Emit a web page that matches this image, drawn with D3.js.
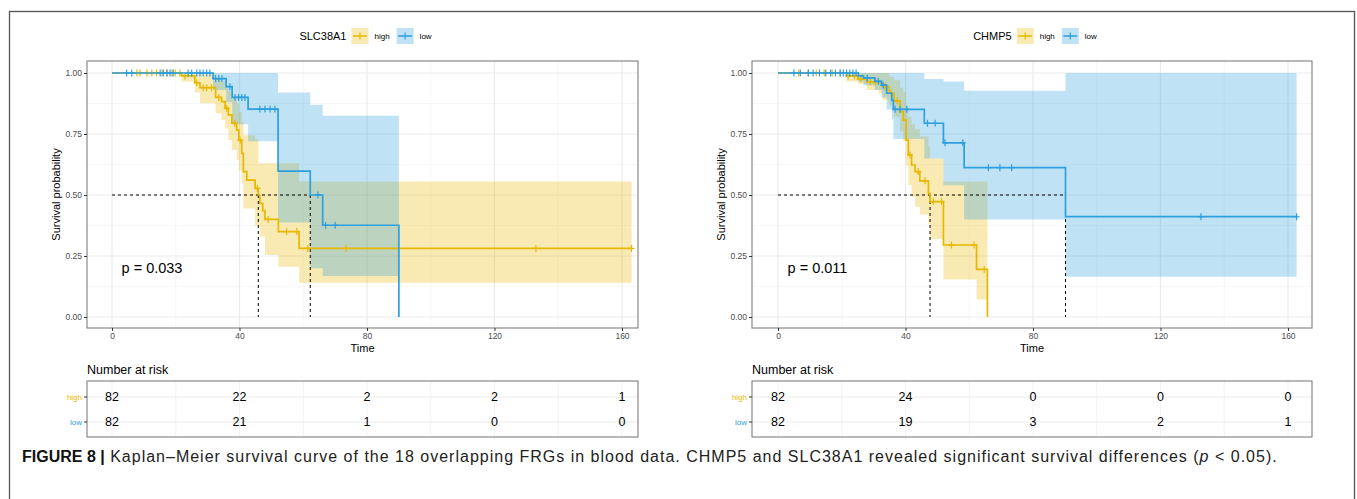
<!DOCTYPE html>
<html>
<head>
<meta charset="utf-8">
<script src="https://cdn.jsdelivr.net/npm/d3@7"></script>
<style>
  body { margin: 0; background: #fff; }
  svg { display: block; font-family: "Liberation Sans", Arial, sans-serif; }
</style>
</head>
<body>
<div id="chart"></div>
<script>
// axes / groups
var timeTicks = [0, 40, 80, 120, 160];
var timeMinor = [20, 60, 100, 140];
var survTicks = [0, 0.25, 0.5, 0.75, 1];
var survMinor = [0.125, 0.375, 0.625, 0.875];
var groupNames = ["high", "low"];
var groupColors = ["#E7B800", "#2E9FDF"];

// SLC38A1 high
var slcHighTime  = [0, 21.8, 26.0, 27.6, 32.5, 34.4, 35.5, 36.5, 37.6, 39.1, 39.8, 40.7, 41.2, 42.3, 44.9, 45.9, 46.4, 47.3, 48.0, 52.2, 58.7];
var slcHighSurv  = [1, 0.988, 0.96, 0.94, 0.90, 0.883, 0.855, 0.828, 0.794, 0.766, 0.725, 0.671, 0.596, 0.561, 0.527, 0.50, 0.466, 0.436, 0.40, 0.35, 0.281];
var slcHighLower = [1, 0.965, 0.92, 0.876, 0.835, 0.807, 0.773, 0.725, 0.684, 0.643, 0.602, 0.55, 0.445, 0.445, 0.374, 0.374, 0.33, 0.33, 0.254, 0.206, 0.14];
var slcHighUpper = [1, 1, 1, 1, 0.975, 0.965, 0.945, 0.925, 0.90, 0.875, 0.84, 0.80, 0.745, 0.745, 0.73, 0.63, 0.63, 0.63, 0.63, 0.63, 0.555];
var slcHighCensor = [7.8, 8.8, 11, 12.5, 14, 15.7, 17.3, 18.8, 19.8, 21.3, 22.9, 26.6, 28.6, 29.7, 31.2, 33.5, 36.0, 38.5, 40.2, 45.6, 49, 54.8, 58, 61.4, 73.4, 133, 163];
var slcHighEnd = 163;

// SLC38A1 low
var slcLowTime  = [0, 31.7, 35.8, 37.7, 42.7, 52.1, 62.2, 66.1, 90];
var slcLowSurv  = [1, 0.977, 0.944, 0.90, 0.852, 0.598, 0.50, 0.376, 0];
var slcLowLower = [1, 0.93, 0.88, 0.79, 0.72, 0.387, 0.20, 0.168, 0];
var slcLowUpper = [1, 1, 1, 1, 1, 0.92, 0.87, 0.825, 0];
var slcLowCensor = [4.6, 6.2, 15.1, 16.1, 17.2, 18.2, 19.2, 23.9, 25, 26.6, 27.6, 28.6, 29.7, 30.7, 32.5, 33.5, 34.5, 37, 38.6, 39.7, 40.7, 41.7, 46.4, 48, 49.6, 51.1, 64.6, 67, 70];
var slcLowEnd = 90;

var slcMedian = [45.9, 62.2];
var slcRiskHigh = [82, 22, 2, 2, 1];
var slcRiskLow = [82, 21, 1, 0, 0];

// CHMP5 high
var chmpHighTime  = [0, 21.5, 25.0, 27.8, 31.5, 32.8, 34.9, 36.4, 38.3, 39.3, 40.2, 40.9, 41.9, 43.0, 44.5, 47.2, 47.7, 51.9, 62.3, 65.7];
var chmpHighSurv  = [1, 0.988, 0.975, 0.964, 0.957, 0.944, 0.917, 0.886, 0.841, 0.807, 0.725, 0.664, 0.623, 0.596, 0.558, 0.507, 0.473, 0.295, 0.195, 0];
var chmpHighLower = [1, 0.965, 0.955, 0.93, 0.917, 0.89, 0.869, 0.82, 0.76, 0.72, 0.62, 0.541, 0.493, 0.452, 0.42, 0.38, 0.32, 0.154, 0.072, 0];
var chmpHighUpper = [1, 1, 1, 1, 1, 1, 0.985, 0.97, 0.94, 0.92, 0.86, 0.82, 0.79, 0.77, 0.74, 0.70, 0.65, 0.555, 0.555, 0];
var chmpHighCensor = [6.5, 9.5, 12, 14.5, 17, 19.5, 22, 24, 26, 29, 30.5, 33.5, 35.5, 37.4, 41.4, 44.0, 46.1, 48.7, 51.3, 54.4, 61.5, 64.7];
var chmpHighEnd = 65.7;

// CHMP5 low
var chmpLowTime  = [0, 25.2, 26.8, 30.4, 32.5, 34.1, 35.7, 36.2, 45.9, 51.9, 58.4, 90.2];
var chmpLowSurv  = [1, 0.988, 0.98, 0.966, 0.95, 0.917, 0.889, 0.851, 0.794, 0.714, 0.612, 0.411];
var chmpLowLower = [1, 0.965, 0.95, 0.93, 0.90, 0.85, 0.81, 0.73, 0.65, 0.54, 0.40, 0.165];
var chmpLowUpper = [1, 1, 1, 1, 1, 1, 1, 1, 0.975, 0.965, 0.927, 1];
var chmpLowCensor = [5, 7, 9.5, 11, 13, 15, 16.5, 18, 19.5, 20.5, 21.5, 22.5, 23.5, 24.5, 28, 31.5, 33, 36.7, 38.3, 40.4, 46.9, 49.3, 52.4, 58.0, 66, 69.6, 73.3, 132.7, 162.7];
var chmpLowEnd = 162.7;

var chmpMedian = [47.7, 90.2];
var chmpRiskHigh = [82, 24, 0, 0, 0];
var chmpRiskLow = [82, 19, 3, 2, 1];

var w = 1357, h = 499;

function buildCurve(time, surv, lower, upper, end) {
  var pts = time.map(function(t, i) {
    return {t: t, s: surv[i], lo: lower[i], hi: upper[i]};
  });
  var last = pts[pts.length - 1];
  if (last.t < end) pts.push({t: end, s: last.s, lo: last.lo, hi: last.hi});
  return pts;
}
function survAt(pts, t) {
  var s = 1;
  pts.forEach(function(p) { if (p.t <= t) s = p.s; });
  return s;
}

var panels = [
  {
    gene: "SLC38A1", left: 87, right: 638, x0: 112, x160: 622, p: "p = 0.033",
    curves: [
      {pts: buildCurve(slcHighTime, slcHighSurv, slcHighLower, slcHighUpper, slcHighEnd), censor: slcHighCensor},
      {pts: buildCurve(slcLowTime, slcLowSurv, slcLowLower, slcLowUpper, slcLowEnd), censor: slcLowCensor}
    ],
    median: slcMedian, risk: [slcRiskHigh, slcRiskLow]
  },
  {
    gene: "CHMP5", left: 752, right: 1312, x0: 778, x160: 1288, p: "p = 0.011",
    curves: [
      {pts: buildCurve(chmpHighTime, chmpHighSurv, chmpHighLower, chmpHighUpper, chmpHighEnd), censor: chmpHighCensor},
      {pts: buildCurve(chmpLowTime, chmpLowSurv, chmpLowLower, chmpLowUpper, chmpLowEnd), censor: chmpLowCensor}
    ],
    median: chmpMedian, risk: [chmpRiskHigh, chmpRiskLow]
  }
];

var svg = d3.select("#chart").append("svg").attr("width", w).attr("height", h);

// outer frame
svg.append("rect").attr("x", 9.5).attr("y", 11.5).attr("width", 1345).attr("height", 520)
  .attr("fill", "none").attr("stroke", "#555").attr("stroke-width", 1.3);

var panelTop = 61, panelBottom = 328;
var tabTop = 381, tabBottom = 437;

panels.forEach(function(P) {
  var x = d3.scaleLinear().domain([0, 160]).range([P.x0, P.x160]);
  var y = d3.scaleLinear().domain([0, 1]).range([317, 73]);
  var g = svg.append("g");

  // grid
  g.selectAll(".vmin").data(timeMinor).enter().append("line")
    .attr("x1", function(d){ return x(d); }).attr("x2", function(d){ return x(d); })
    .attr("y1", panelTop).attr("y2", panelBottom).attr("stroke", "#f3f3f3").attr("stroke-width", 0.7);
  g.selectAll(".hmin").data(survMinor).enter().append("line")
    .attr("y1", function(d){ return y(d); }).attr("y2", function(d){ return y(d); })
    .attr("x1", P.left).attr("x2", P.right).attr("stroke", "#f3f3f3").attr("stroke-width", 0.7);
  g.selectAll(".vmaj").data(timeTicks).enter().append("line")
    .attr("x1", function(d){ return x(d); }).attr("x2", function(d){ return x(d); })
    .attr("y1", panelTop).attr("y2", panelBottom).attr("stroke", "#ebebeb").attr("stroke-width", 1.2);
  g.selectAll(".hmaj").data(survTicks).enter().append("line")
    .attr("y1", function(d){ return y(d); }).attr("y2", function(d){ return y(d); })
    .attr("x1", P.left).attr("x2", P.right).attr("stroke", "#ebebeb").attr("stroke-width", 1.2);

  // confidence bands
  var band = d3.area().curve(d3.curveStepAfter)
    .x(function(d){ return x(d.t); })
    .y0(function(d){ return y(d.lo); })
    .y1(function(d){ return y(d.hi); });
  P.curves.forEach(function(c, i) {
    g.append("path").attr("d", band(c.pts)).attr("fill", groupColors[i]).attr("fill-opacity", 0.3);
  });

  // median lines
  var medMax = d3.max(P.median);
  g.append("line").attr("x1", x(0)).attr("x2", x(medMax)).attr("y1", y(0.5)).attr("y2", y(0.5))
    .attr("stroke", "#000").attr("stroke-width", 1).attr("stroke-dasharray", "3,3");
  P.median.forEach(function(m) {
    g.append("line").attr("x1", x(m)).attr("x2", x(m)).attr("y1", y(0.5)).attr("y2", y(0))
      .attr("stroke", "#000").attr("stroke-width", 1).attr("stroke-dasharray", "3,3");
  });

  // survival lines + censor marks
  var line = d3.line().curve(d3.curveStepAfter)
    .x(function(d){ return x(d.t); }).y(function(d){ return y(d.s); });
  P.curves.forEach(function(c, i) {
    g.append("path").attr("d", line(c.pts)).attr("fill", "none")
      .attr("stroke", groupColors[i]).attr("stroke-width", 1.7);
    c.censor.forEach(function(t) {
      var mx = x(t), my = y(survAt(c.pts, t));
      g.append("line").attr("x1", mx).attr("x2", mx).attr("y1", my - 3.5).attr("y2", my + 3.5)
        .attr("stroke", groupColors[i]).attr("stroke-width", 1.2);
      g.append("line").attr("x1", mx - 3).attr("x2", mx + 3).attr("y1", my).attr("y2", my)
        .attr("stroke", groupColors[i]).attr("stroke-width", 1.2);
    });
  });

  // panel border
  g.append("rect").attr("x", P.left).attr("y", panelTop).attr("width", P.right - P.left).attr("height", panelBottom - panelTop)
    .attr("fill", "none").attr("stroke", "#7f7f7f").attr("stroke-width", 1.1);

  // axes
  var xa = g.append("g").attr("transform", "translate(0," + panelBottom + ")")
    .call(d3.axisBottom(x).tickValues(timeTicks).tickSize(3).tickPadding(2));
  var ya = g.append("g").attr("transform", "translate(" + P.left + ",0)")
    .call(d3.axisLeft(y).tickValues(survTicks).tickFormat(d3.format(".2f")).tickSize(3).tickPadding(2));
  [xa, ya].forEach(function(a) {
    a.select(".domain").remove();
    a.selectAll("line").attr("stroke", "#333");
    a.selectAll("text").attr("fill", "#4d4d4d").style("font-size", "8.5px").style("font-family", "Liberation Sans, Arial, sans-serif");
  });

  // axis titles
  var mid = (P.left + P.right) / 2;
  g.append("text").attr("x", mid).attr("y", 352).attr("text-anchor", "middle")
    .style("font-size", "11px").text("Time");
  g.append("text").attr("transform", "translate(" + (P.left - 27) + "," + ((panelTop + panelBottom) / 2) + ") rotate(-90)")
    .attr("text-anchor", "middle").style("font-size", "11px").text("Survival probability");

  // p value
  g.append("text").attr("x", x(3)).attr("y", y(0.2)).attr("dy", "0.35em")
    .style("font-size", "14.5px").text(P.p);

  // legend
  var lg = g.append("g");
  var tt = lg.append("text").attr("x", 0).attr("y", 36).attr("dy", "0.35em").style("font-size", "11px").text(P.gene);
  var pos = tt.node().getComputedTextLength() + 5;
  groupNames.forEach(function(name, i) {
    lg.append("rect").attr("x", pos).attr("y", 28).attr("width", 17).attr("height", 16)
      .attr("fill", groupColors[i]).attr("fill-opacity", 0.3);
    lg.append("line").attr("x1", pos + 1.5).attr("x2", pos + 15.5).attr("y1", 36).attr("y2", 36)
      .attr("stroke", groupColors[i]).attr("stroke-width", 1.5);
    lg.append("line").attr("x1", pos + 8.5).attr("x2", pos + 8.5).attr("y1", 32.5).attr("y2", 39.5)
      .attr("stroke", groupColors[i]).attr("stroke-width", 1.2);
    var lt = lg.append("text").attr("x", pos + 23).attr("y", 36).attr("dy", "0.35em")
      .style("font-size", "8px").text(name);
    pos += 23 + lt.node().getComputedTextLength() + 7;
  });
  lg.attr("transform", "translate(" + (mid - (pos - 7) / 2 + 3) + ",0)");

  // risk table
  g.append("text").attr("x", P.left).attr("y", 370).attr("dy", "0.35em")
    .style("font-size", "12.5px").text("Number at risk");
  var ry = d3.scalePoint().domain(groupNames).range([397, 422]);
  g.selectAll(".tv").data(timeMinor.concat(timeTicks)).enter().append("line")
    .attr("x1", function(d){ return x(d); }).attr("x2", function(d){ return x(d); })
    .attr("y1", tabTop).attr("y2", tabBottom).attr("stroke", "#f0f0f0").attr("stroke-width", 0.8);
  g.selectAll(".th").data(groupNames).enter().append("line")
    .attr("y1", function(d){ return ry(d); }).attr("y2", function(d){ return ry(d); })
    .attr("x1", P.left).attr("x2", P.right).attr("stroke", "#ebebeb").attr("stroke-width", 1);
  g.append("rect").attr("x", P.left).attr("y", tabTop).attr("width", P.right - P.left).attr("height", tabBottom - tabTop)
    .attr("fill", "none").attr("stroke", "#7f7f7f").attr("stroke-width", 1.1);
  groupNames.forEach(function(name, i) {
    g.append("line").attr("x1", P.left - 3).attr("x2", P.left).attr("y1", ry(name)).attr("y2", ry(name))
      .attr("stroke", "#333");
    g.append("text").attr("x", P.left - 5).attr("y", ry(name)).attr("dy", "0.35em")
      .attr("text-anchor", "end").attr("fill", groupColors[i]).style("font-size", "8px").text(name);
    g.selectAll(".risk" + i).data(P.risk[i]).enter().append("text")
      .attr("x", function(d, j){ return x(timeTicks[j]); }).attr("y", ry(name)).attr("dy", "0.35em")
      .attr("text-anchor", "middle").style("font-size", "12.5px").text(function(d){ return d; });
  });
});

// caption
var cap = svg.append("text").attr("x", 22).attr("y", 462).style("font-size", "16px").attr("fill", "#111");
cap.append("tspan").style("font-weight", "bold").text("FIGURE 8 |");
var capRest = [
  {t: " Kaplan–Meier survival curve of the 18 overlapping FRGs in blood data. CHMP5 and SLC38A1 revealed significant survival differences (", it: false},
  {t: "p", it: true},
  {t: " < 0.05).", it: false}
];
capRest.forEach(function(c) {
  cap.append("tspan").style("font-style", c.it ? "italic" : "normal")
    .style("letter-spacing", "1.0px").attr("fill", "#222").text(c.t);
});
</script>
</body>
</html>
